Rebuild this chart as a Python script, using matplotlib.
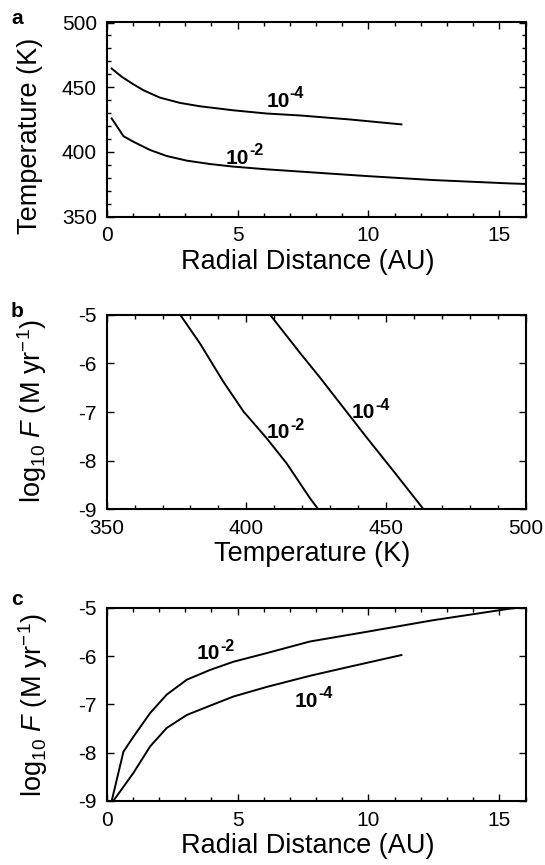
import matplotlib
matplotlib.use("Agg")
import matplotlib.pyplot as plt
from matplotlib.ticker import MultipleLocator

plt.rcParams['font.family'] = ['Liberation Sans', 'DejaVu Sans']
plt.rcParams['mathtext.fontset'] = 'custom'
plt.rcParams['mathtext.rm'] = 'Liberation Sans'
plt.rcParams['mathtext.it'] = 'Liberation Sans:italic'
plt.rcParams['mathtext.bf'] = 'Liberation Sans:bold'
plt.rcParams['axes.unicode_minus'] = False

# ---- Panel a: Temperature vs radial distance ----
a_r_1e4 = [0.19, 0.58, 1.0, 1.4, 2.03, 2.8, 3.56, 4.83, 6.11, 7.38, 9.29, 11.26]
a_T_1e4 = [464.4, 458.0, 452.5, 447.7, 442.0, 437.9, 435.3, 432.2, 429.7, 428.2, 425.1, 421.3]
a_r_1e2 = [0.19, 0.64, 1.02, 1.66, 2.29, 3.06, 3.94, 4.83, 6.11, 7.5, 9.93, 12.48, 15.4, 16.0]
a_T_1e2 = [425.9, 412.2, 407.9, 401.5, 396.9, 393.3, 390.7, 388.7, 386.6, 384.7, 381.4, 378.3, 375.7, 375.3]

# ---- Panel b: log10 F vs temperature ----
b_T_1e2 = [376.3, 383.4, 391.8, 399.0, 407.3, 414.5, 422.9, 425.8]
b_F_1e2 = [-5.0, -5.59, -6.38, -6.99, -7.54, -8.06, -8.78, -9.0]
b_T_1e4 = [408.5, 419.3, 426.5, 434.9, 443.2, 452.8, 463.5]
b_F_1e4 = [-5.0, -5.79, -6.30, -6.92, -7.53, -8.22, -9.0]

# ---- Panel c: log10 F vs radial distance ----
c_r_1e2 = [0.19, 0.64, 1.02, 1.66, 2.29, 3.06, 3.94, 4.83, 6.11, 7.76, 9.92, 12.46, 15.4, 16.0]
c_F_1e2 = [-9.0, -7.98, -7.67, -7.18, -6.80, -6.49, -6.29, -6.12, -5.94, -5.70, -5.50, -5.26, -5.02, -4.99]
c_r_1e4 = [0.25, 1.02, 1.66, 2.29, 3.06, 3.94, 4.83, 6.11, 7.76, 9.29, 11.26]
c_F_1e4 = [-9.0, -8.42, -7.87, -7.49, -7.22, -7.03, -6.84, -6.64, -6.41, -6.22, -5.98]

curve_base = '10'
sup_1e2 = '-2'
sup_1e4 = '-4'
panel_letters = ['a', 'b', 'c']
xlabels = ['Radial Distance (AU)', 'Temperature (K)', 'Radial Distance (AU)']
ylabels = ['Temperature (K)', r'log$_{10}$ $F$ (M yr$^{-1}$)', r'log$_{10}$ $F$ (M yr$^{-1}$)']

W, H = 545, 865
fig = plt.figure(figsize=(W / 100, H / 100), dpi=100)

def px_axes(left, top, right, bottom):
    return fig.add_axes([left / W, 1 - bottom / H, (right - left) / W, (bottom - top) / H])

axa = px_axes(106.7, 22.5, 525.5, 216.7)
axb = px_axes(106.7, 314.7, 525.5, 509.3)
axc = px_axes(106.7, 607.7, 525.5, 801.0)

lw = 1.4
axa.plot(a_r_1e4, a_T_1e4, color='black', lw=lw)
axa.plot(a_r_1e2, a_T_1e2, color='black', lw=lw)
axb.plot(b_T_1e2, b_F_1e2, color='black', lw=lw)
axb.plot(b_T_1e4, b_F_1e4, color='black', lw=lw)
axc.plot(c_r_1e2, c_F_1e2, color='black', lw=lw)
axc.plot(c_r_1e4, c_F_1e4, color='black', lw=lw)

axa.set_xlim(0, 16); axa.set_ylim(350, 500)
axa.xaxis.set_major_locator(MultipleLocator(5)); axa.xaxis.set_minor_locator(MultipleLocator(1))
axa.yaxis.set_major_locator(MultipleLocator(50)); axa.yaxis.set_minor_locator(MultipleLocator(10))

axb.set_xlim(350, 500); axb.set_ylim(-9, -5)
axb.xaxis.set_major_locator(MultipleLocator(50)); axb.xaxis.set_minor_locator(MultipleLocator(10))
axb.yaxis.set_major_locator(MultipleLocator(1))

axc.set_xlim(0, 16); axc.set_ylim(-9, -5)
axc.xaxis.set_major_locator(MultipleLocator(5)); axc.xaxis.set_minor_locator(MultipleLocator(1))
axc.yaxis.set_major_locator(MultipleLocator(1))

for ax in (axa, axb, axc):
    for s in ax.spines.values():
        s.set_linewidth(1.5)
    ax.tick_params(which='both', direction='in', top=True, right=True, width=1.0,
                   labelsize=15, pad=7)
    ax.tick_params(which='major', length=5)
    ax.tick_params(which='minor', length=3)


def curve_label(ax, x, y, sup):
    ax.text(x, y, curve_base, fontsize=15, fontweight='bold', ha='left', va='baseline')
    ax.annotate(sup, xy=(x, y), xycoords='data', xytext=(16.9, 6.0),
                textcoords='offset points', fontsize=11.5, fontweight='bold',
                ha='left', va='baseline')


curve_label(axa, 6.1, 435, sup_1e4)
curve_label(axa, 4.55, 391, sup_1e2)
curve_label(axb, 407.3, -7.54, sup_1e2)
curve_label(axb, 437.8, -7.12, sup_1e4)
curve_label(axc, 3.43, -6.07, sup_1e2)
curve_label(axc, 7.19, -7.05, sup_1e4)

# axis labels and panel letters (pixel positions)
xlab_y = [269, 561, 853]
xlab_x = [308, 312, 308]
ylab_x = [30, 32, 33]
ylab_y = [136, 411, 705]
letter_y = [24, 317, 605]
for i in range(3):
    fig.text(xlab_x[i] / W, 1 - xlab_y[i] / H, xlabels[i], fontsize=19.5,
             ha='center', va='baseline')
    fig.text(ylab_x[i] / W, 1 - ylab_y[i] / H, ylabels[i], fontsize=19.5,
             ha='center', va='center', rotation=90)
    fig.text(17 / W, 1 - letter_y[i] / H, panel_letters[i], fontsize=15,
             fontweight='bold', ha='center', va='baseline')

fig.savefig('out.png', dpi=100)
